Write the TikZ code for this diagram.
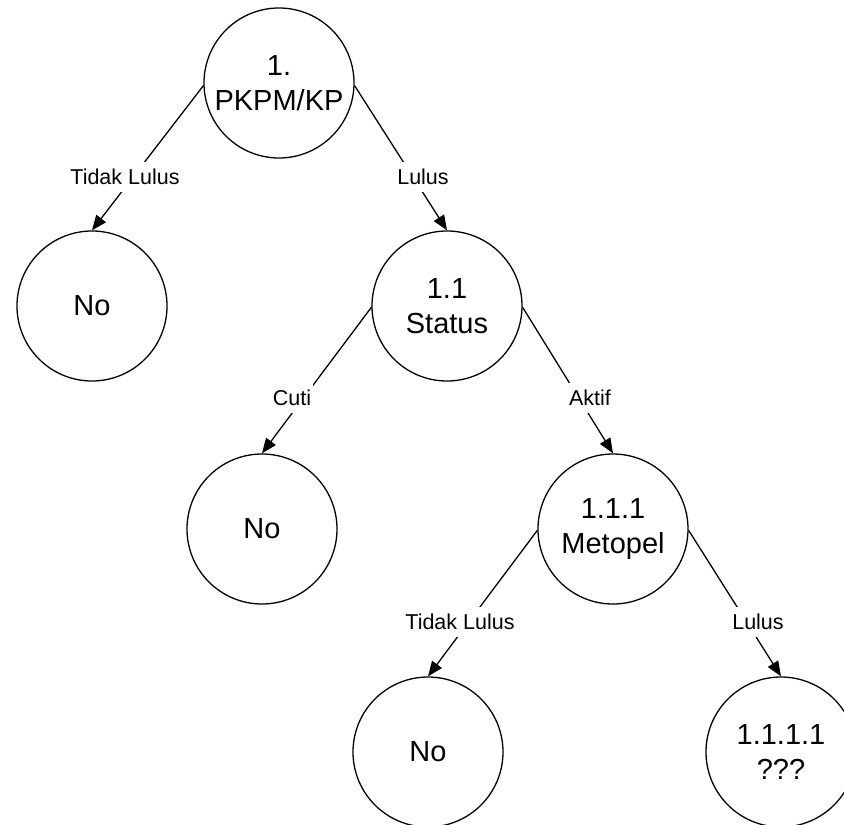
\documentclass[tikz,border=0pt]{standalone}
\usepackage{fontspec}
\setmainfont{Liberation Sans}
\usetikzlibrary{arrows.meta}
\begin{document}
\begin{tikzpicture}[x=1pt,y=-1pt,
  state/.style={circle,draw,line width=1.3pt,minimum size=150pt,inner sep=0pt,align=center,font=\fontsize{29}{35}\selectfont},
  edgelab/.style={fill=white,inner xsep=2pt,inner ysep=7pt,font=\fontsize{21.5}{24}\selectfont},
  conn/.style={line width=1.3pt,-{Triangle[length=15pt,width=12pt]}}]
\useasboundingbox (0,0) rectangle (844,825);
\node[state] (root) at (279,83) {1.\\PKPM/KP};
\node[state] (no1) at (92,306) {No};
\node[state] (status) at (447,306) {1.1\\Status};
\node[state] (no2) at (262,529) {No};
\node[state] (metopel) at (613,529) {1.1.1\\Metopel};
\node[state] (no3) at (428,752) {No};
\node[state] (q) at (781,752) {1.1.1.1\\???};
\draw[conn] (root.182) -- (no1.north);
\draw[conn] (root.358) -- (status.north);
\draw[conn] (status.181) -- (no2.north);
\draw[conn] (status.359) -- (metopel.north);
\draw[conn] (metopel.181) -- (no3.north);
\draw[conn] (metopel.359) -- (q.north);
\node[edgelab] (l1) at (125,177) {Tidak Lulus};
\node[edgelab] (l2) at (423,177) {Lulus};
\node[edgelab] (l3) at (292,398) {Cuti};
\node[edgelab] (l4) at (590,398) {Aktif};
\node[edgelab] (l5) at (460,622) {Tidak Lulus};
\node[edgelab] (l6) at (758,622) {Lulus};
\end{tikzpicture}
\end{document}
